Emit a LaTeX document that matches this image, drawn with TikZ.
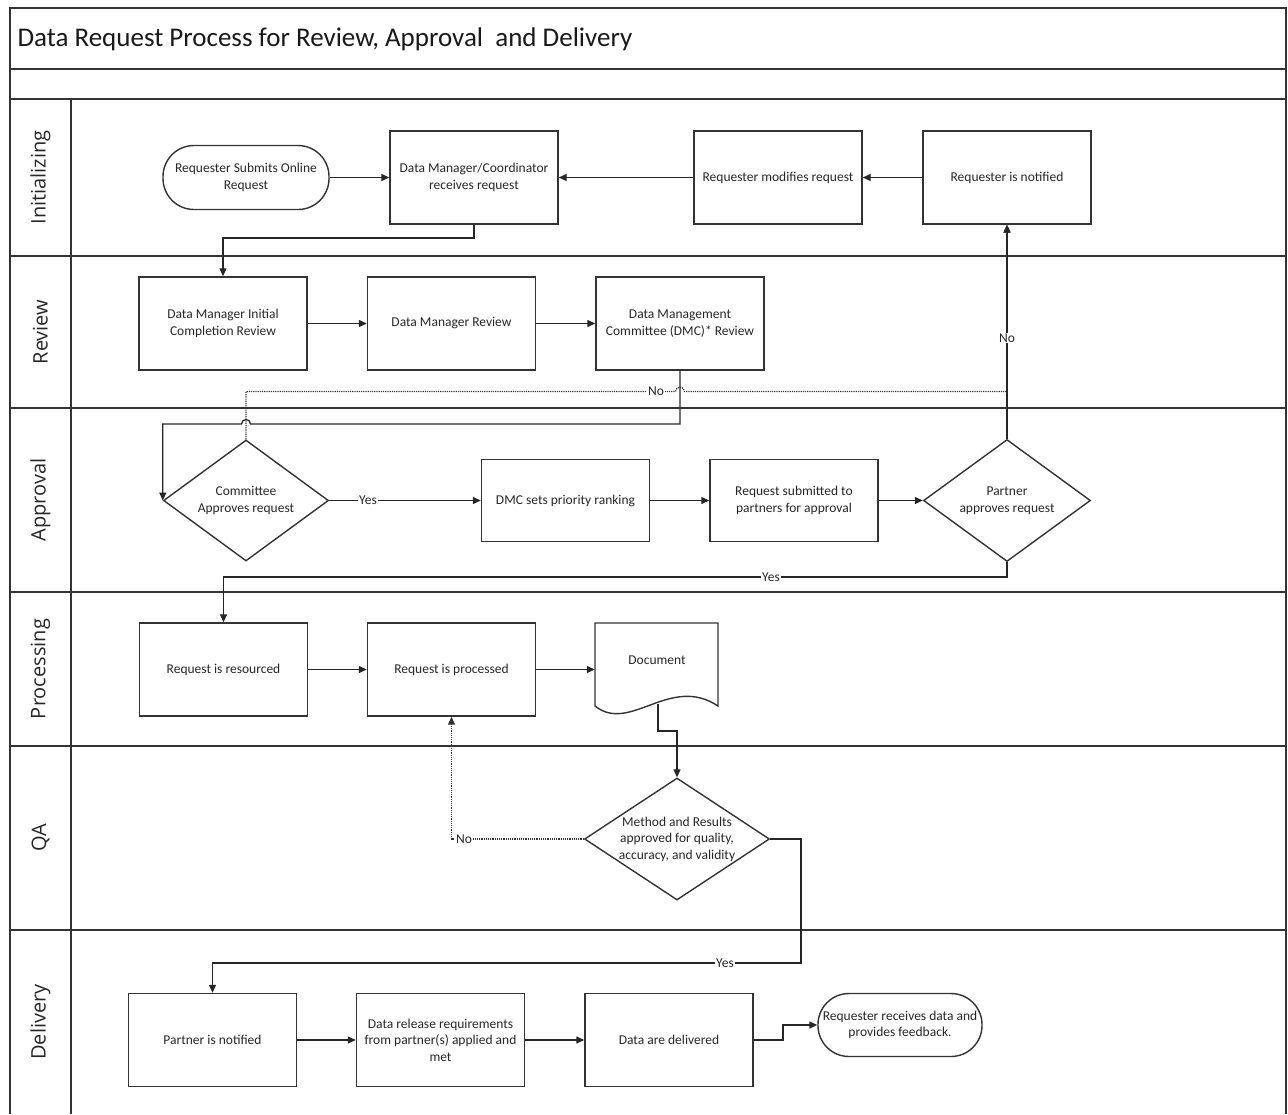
\documentclass[tikz,border=0pt]{standalone}
\usepackage{fontspec}
\setmainfont{Carlito}
\newfontfamily\lanefont{Open Sans}
\usetikzlibrary{arrows.meta,shapes.geometric}
\begin{document}
\begin{tikzpicture}[x=1pt,y=-1pt,
  ln/.style={draw=black!80, line width=1.9pt},
  nodetext/.style={font=\fontsize{13.5}{16.5}\selectfont, text=black!85, align=center},
  box/.style={nodetext, draw=black!80, line width=1.4pt, minimum width=168pt, minimum height=93pt, inner sep=2pt},
  lowbox/.style={box, minimum height=82pt},
  term/.style={nodetext, draw=black!80, line width=1.4pt, rounded corners=31pt, minimum width=166pt, minimum height=64pt, inner sep=2pt},
  dec/.style={nodetext, draw=black!80, line width=1.4pt, shape=diamond, aspect=1.4, inner sep=0pt, minimum width=166pt, minimum height=121pt},
  lane/.style={font=\lanefont\fontsize{20}{22}\selectfont, text=black!85, rotate=90},
  conn/.style={draw=black!85, line width=1.3pt},
  tip/.style={-{Triangle[length=8pt,width=7pt]}},
  arr/.style={conn, tip},
  dot/.style={draw=black!80, line width=1.2pt, dash pattern=on 1.2pt off 1pt},
  lbl/.style={fill=white, inner sep=1pt, font=\fontsize{13.5}{15}\selectfont, text=black!85}
]
\useasboundingbox (0,0) rectangle (1288,1114);
% frame and lanes
\draw[ln] (10,1114) -- (10,8) -- (1286,8) -- (1286,1114);
\foreach \yy in {69,99,256,408,592,746,930} \draw[ln] (10,\yy) -- (1286,\yy);
\draw[ln] (71,99) -- (71,1114);
\node[anchor=west, font=\fontsize{27}{30}\selectfont, text=black!90] (title) at (14,39) {Data Request Process for Review, Approval\ \ and Delivery};
\node[lane] (l1) at (40.5,177.5) {Initializing};
\node[lane] (l2) at (40.5,332) {Review};
\node[lane] (l3) at (40.5,500) {Approval};
\node[lane] (l4) at (40.5,669) {Processing};
\node[lane] (l5) at (40.5,838) {QA};
\node[lane] (l6) at (40.5,1022) {Delivery};

% Initializing
\node[term] (start) at (246,177.5) {Requester Submits Online\\Request};
\node[box] (dm) at (474,177.5) {Data Manager/Coordinator\\receives request};
\node[box] (mod) at (778,177.5) {Requester modifies request};
\node[box] (notif) at (1007,177.5) {Requester is notified};
% Review
\node[box] (r1) at (223,323.5) {Data Manager Initial\\Completion Review};
\node[box] (r2) at (451.5,323.5) {Data Manager Review};
\node[box] (r3) at (680,323.5) {Data Management\\Committee (DMC)* Review};
% Approval
\node[dec, minimum width=165pt] (comm) at (246,500.5) {Committee\\Approves request};
\node[lowbox] (dmcset) at (565.5,500.5) {DMC sets priority ranking};
\node[lowbox] (sub) at (794,500.5) {Request submitted to\\partners for approval};
\node[dec, minimum width=167pt, minimum height=122pt] (partner) at (1007,500.5) {Partner\\approves request};
% Processing
\node[box] (res) at (223.5,669.5) {Request is resourced};
\node[box] (proc) at (451.5,669.5) {Request is processed};
\node[nodetext, minimum width=123pt, minimum height=83pt, inner sep=0pt, text depth=0pt] (doc) at (656.5,664.5) {};
\node[nodetext] (doctext) at (657,660) {Document};
\draw[draw=black!80, line width=1.4pt] (595,706) -- (595,623) -- (718,623) -- (718,706)
  .. controls (670,674) and (630,734) .. (595,706) -- cycle;
\coordinate (docb) at (658,704);
% QA
\node[dec, aspect=1.5, minimum width=185pt, minimum height=122pt] (qa) at (677,839) {Method and Results\\approved for quality,\\accuracy, and validity};
% Delivery
\node[box] (pn) at (212.5,1040) {Partner is notified};
\node[box] (rel) at (440.5,1040) {Data release requirements\\from partner(s) applied and\\met};
\node[box] (del) at (669,1040) {Data are delivered};
\node[term, minimum width=164pt, minimum height=63pt] (recv) at (900,1025) {Requester receives data and\\provides feedback.};

% connectors
\draw[arr] (start.east) -- (dm.west);
\draw[arr] (mod.west) -- (dm.east);
\draw[arr] (notif.west) -- (mod.east);
\draw[arr] (dm.south) -- (474,238) -| (r1.north);
\draw[arr] (r1.east) -- (r2.west);
\draw[arr] (r2.east) -- (r3.west);
\draw[arr] (r3.south) |- (250.5,424) arc[start angle=0, end angle=180, radius=4.5pt] -| (comm.west);
\draw[dot, tip] (comm.north) -- (246,391.5) -- (675.5,391.5) arc[start angle=180, end angle=0, radius=4.5pt] -| (notif.south);
\node[lbl] (no1) at (656,391.5) {No};
\draw[arr] (partner.north) -- (notif.south);
\node[lbl] (no2) at (1007,338) {No};
\draw[arr] (comm.east) -- (dmcset.west);
\node[lbl] (yes1) at (368,500.5) {Yes};
\draw[arr] (dmcset.east) -- (sub.west);
\draw[arr] (sub.east) -- (partner.west);
\draw[arr] (partner.south) -- (1007,577) -| (res.north);
\node[lbl] (yes2) at (771,577) {Yes};
\draw[arr] (res.east) -- (proc.west);
\draw[arr] (proc.east) -- (proc.east -| doc.west);
\draw[arr] (docb) |- (677,731) -- (qa.north);
\draw[dot, tip] (qa.west) -| (proc.south);
\node[lbl] (no3) at (464,839) {No};
\draw[arr] (qa.east) -| (801,963) -| (pn.north);
\node[lbl] (yes3) at (725,963) {Yes};
\draw[arr] (pn.east) -- (rel.west);
\draw[arr] (rel.east) -- (del.west);
\draw[arr] (del.east) -- (783,1040) |- (recv.west);
\end{tikzpicture}
\end{document}
